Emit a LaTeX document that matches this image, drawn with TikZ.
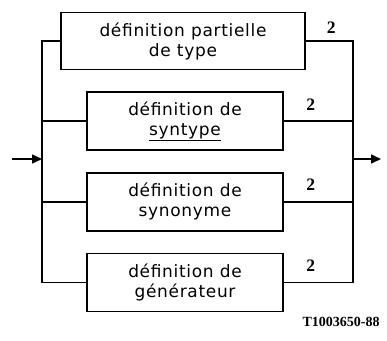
\documentclass[tikz,border=0pt]{standalone}
\usepackage{fontspec}
\usepackage{tikz}
\usetikzlibrary{positioning,arrows.meta}
\newfontfamily\boxfont[LetterSpace=4]{DejaVu Sans}
\newfontfamily\numfont{Liberation Serif}

\begin{document}
\begin{tikzpicture}[
    x=1pt, y=-1pt,
    node distance=21pt,
    line width=1.6pt,
    block/.style={rectangle, draw, minimum width=196pt, minimum height=58pt, inner sep=0pt, align=center, font=\boxfont\fontsize{17}{20}\selectfont},
    wide/.style={block, minimum width=244pt, minimum height=57pt},
    count/.style={inner sep=0pt, font=\numfont\bfseries\fontsize{17.5}{17.5}\selectfont},
]
\useasboundingbox (0,0) rectangle (387,340);
\node[wide] (partial) at (183,41) {définition partielle\\de type};
\node[block, below=of partial, xshift=2pt] (syntype) {définition de\\\underline{syntype}};
\node[block, below=of syntype] (synonym) {définition de\\synonyme};
\node[block, below=of synonym] (generator) {définition de\\générateur};
\coordinate (busL) at (42,159);
\coordinate (busR) at (353,159);
\coordinate (src) at (12,159);
\coordinate (dst) at (381,159);
% left bus
\draw (partial.west) -| (busL) |- (generator.west);
\draw (syntype.west) -- (syntype.west -| busL);
\draw (synonym.west) -- (synonym.west -| busL);
% right bus
\draw (partial.east) -| (busR) |- (generator.east);
\draw (syntype.east) -- (syntype.east -| busR);
\draw (synonym.east) -- (synonym.east -| busR);
\path (partial.east) -- node[count, above=7pt, pos=0.54] (c1) {2} (partial.east -| busR);
\path (syntype.east) -- node[count, above=10pt, pos=0.39] (c2) {2} (syntype.east -| busR);
\path (synonym.east) -- node[count, above=10pt, pos=0.39] (c3) {2} (synonym.east -| busR);
\path (generator.east) -- node[count, above=10pt, pos=0.39] (c4) {2} (generator.east -| busR);
\draw[-{Triangle[length=10pt,width=9pt]}] (src) -- (busL);
\draw[-{Triangle[length=10pt,width=9pt]}] (busR) -- (dst);
\node[font=\numfont\bfseries\fontsize{14}{14}\selectfont] (ref) at (341,322) {T1003650-88};
\end{tikzpicture}
\end{document}
